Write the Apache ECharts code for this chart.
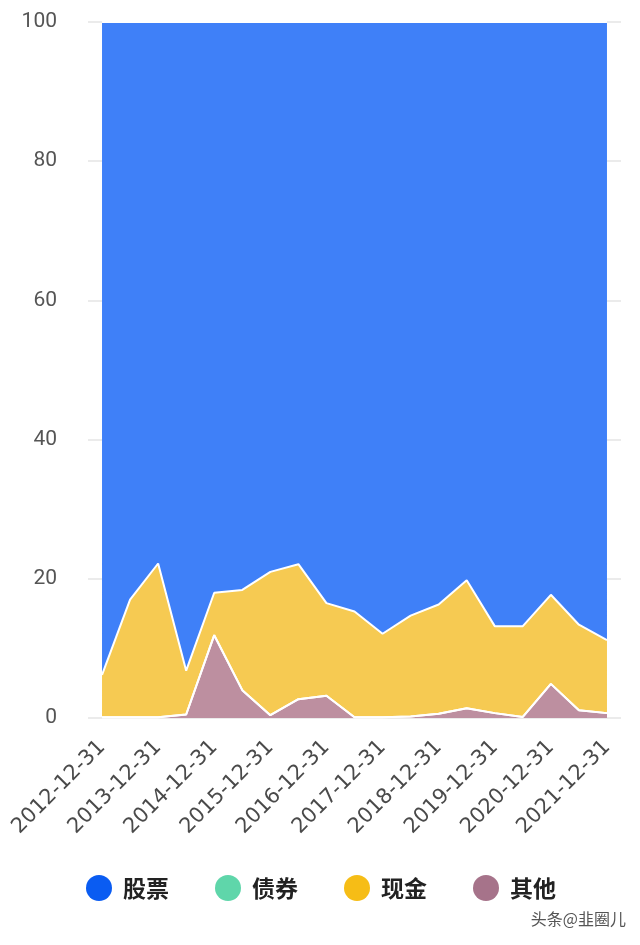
<!DOCTYPE html>
<html>
<head>
<meta charset="utf-8">
<script src="https://cdn.jsdelivr.net/npm/echarts@6/dist/echarts.min.js"></script>
<style>
html,body{margin:0;padding:0;background:#fff;}
#chart{width:640px;height:945px;}
</style>
</head>
<body>
<div id="chart"></div>
<script>
const categories = ['2012-12-31','2013-06-30','2013-12-31','2014-06-30','2014-12-31','2015-06-30','2015-12-31','2016-06-30','2016-12-31','2017-06-30','2017-12-31','2018-06-30','2018-12-31','2019-06-30','2019-12-31','2020-06-30','2020-12-31','2021-06-30','2021-12-31'];
const stock = [93.8,83.0,77.8,93.2,82.0,81.6,79.0,77.9,83.5,84.7,87.9,85.3,83.7,80.2,86.8,86.8,82.3,86.6,88.8];
const bond  = [0,0,0,0,0,0,0,0,0,0,0,0,0,0,0,0,0,0,0];
const cash  = [6.1,16.9,22.1,6.3,6.1,14.4,20.6,19.4,13.3,15.2,12.0,14.5,15.7,18.4,12.5,13.05,12.8,12.3,10.5];
const other = [0.1,0.1,0.1,0.5,11.9,4.0,0.4,2.7,3.2,0.1,0.1,0.2,0.6,1.4,0.7,0.15,4.9,1.1,0.7];
const yTicks = [0,20,40,60,80,100];

const chart = echarts.init(document.getElementById('chart'));
function mk(name, data, color, areaColor) {
  return {
    name: name, type: 'line', stack: 'total', data: data,
    symbol: 'none', smooth: false,
    itemStyle: { color: color },
    lineStyle: { color: '#ffffff', width: 2 },
    areaStyle: { color: areaColor, opacity: 1 },
    emphasis: { disabled: true }
  };
}
chart.setOption({
  animation: false,
  backgroundColor: '#ffffff',
  grid: { left: 88, right: 19, top: 22, bottom: 227, containLabel: false },
  legend: {
    data: ['股票','债券','现金','其他'],
    icon: 'circle', itemWidth: 26, itemHeight: 26, itemGap: 46,
    left: 81, top: 870,
    itemStyle: { borderWidth: 0 },
    textStyle: { fontSize: 23, fontWeight: 'bold', color: '#222', padding: [0,0,0,6], fontFamily: 'Noto Sans CJK SC' }
  },
  xAxis: {
    type: 'category', data: categories, boundaryGap: true,
    axisLine: { show: false }, axisTick: { show: false },
    axisLabel: { interval: 1, rotate: 45, fontSize: 21, color: '#4a4a4a', margin: 26, fontFamily: 'DejaVu Sans' }
  },
  yAxis: {
    type: 'value', min: yTicks[0], max: yTicks[yTicks.length-1], interval: 20,
    axisLine: { show: false }, axisTick: { show: false },
    axisLabel: { fontSize: 21, color: '#555', margin: 31, fontFamily: 'Roboto' },
    splitLine: { lineStyle: { color: '#e4e4e4', width: 1.5 } }
  },
  graphic: [{
    type: 'text', right: 14, top: 911,
    style: { text: '头条@韭圈儿', fontSize: 16, fill: '#555', fontFamily: 'Noto Sans CJK SC' }
  }],
  series: [
    mk('其他', other, '#a6738a', '#bd8fa0'),
    mk('债券', bond, '#5fd6aa', '#7fdcb8'),
    mk('现金', cash, '#f6bd16', '#f6ca52'),
    mk('股票', stock, '#0a5cf2', '#3f80f8')
  ]
});
</script>
</body>
</html>
